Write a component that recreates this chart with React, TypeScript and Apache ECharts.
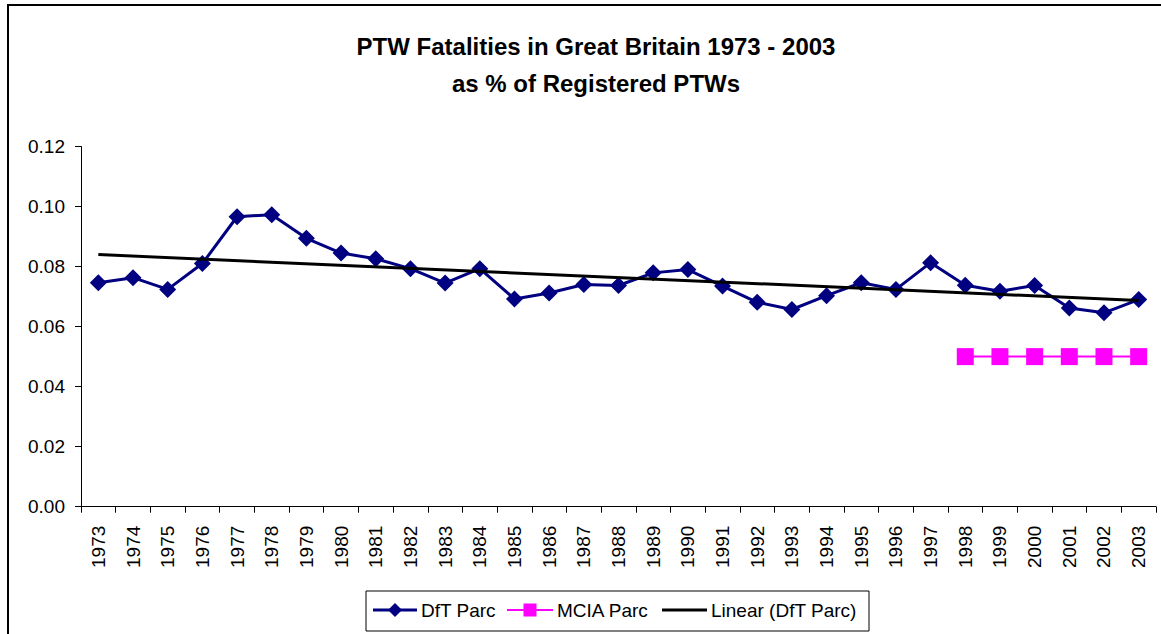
import React, { useEffect, useRef } from "react";
import * as echarts from "echarts";

const years = [
  "1973","1974","1975","1976","1977","1978","1979","1980","1981","1982",
  "1983","1984","1985","1986","1987","1988","1989","1990","1991","1992",
  "1993","1994","1995","1996","1997","1998","1999","2000","2001","2002","2003",
];
const dftParc = [
  0.0746, 0.0763, 0.0724, 0.0810, 0.0966, 0.0973, 0.0894, 0.0845, 0.0826, 0.0793,
  0.0745, 0.0793, 0.0692, 0.0712, 0.0740, 0.0737, 0.0779, 0.0790, 0.0735, 0.0681,
  0.0657, 0.0703, 0.0746, 0.0724, 0.0813, 0.0738, 0.0718, 0.0737, 0.0662, 0.0646, 0.0690,
];
const mciaParc: (number | null)[] = [
  null, null, null, null, null, null, null, null, null, null,
  null, null, null, null, null, null, null, null, null, null,
  null, null, null, null, null, 0.05, 0.05, 0.05, 0.05, 0.05, 0.05,
];
const trendStart = 0.0840;
const trendEnd = 0.0687;
const trend: (number | null)[] = years.map((_, i) =>
  i === 0 ? trendStart : i === years.length - 1 ? trendEnd : null
);
const legendNames = ["DfT Parc", "MCIA Parc", "Linear (DfT Parc)"];

const FONT = "'Liberation Sans', Arial, sans-serif";
const NAVY = "#000080";
const PINK = "#FF00FF";

export default function App() {
  const ref = useRef<HTMLDivElement>(null);
  useEffect(() => {
    if (!ref.current) return;
    const chart = echarts.init(ref.current, undefined, { renderer: "svg" });
    const ly = 610;
    chart.setOption({
      animation: false,
      backgroundColor: "transparent",
      textStyle: { fontFamily: FONT },
      title: {
        text: "PTW Fatalities in Great Britain 1973 - 2003\nas % of Registered PTWs",
        left: 591,
        top: 23,
        textAlign: "center",
        textStyle: {
          fontFamily: FONT,
          fontSize: 24,
          fontWeight: "bold",
          lineHeight: 37,
          color: "#000",
        },
      },
      grid: { left: 81, right: 5, top: 146.5, bottom: 127.3, containLabel: false },
      xAxis: {
        type: "category",
        data: years,
        boundaryGap: true,
        axisLine: { lineStyle: { color: "#000", width: 1 } },
        axisTick: { show: true, length: 6, interval: 0, lineStyle: { color: "#000" } },
        axisLabel: {
          rotate: 90,
          interval: 0,
          fontSize: 19,
          color: "#000",
          fontFamily: FONT,
          margin: 19,
        },
      },
      yAxis: {
        type: "value",
        min: 0,
        max: 0.12,
        interval: 0.02,
        splitLine: { show: false },
        axisLine: { show: true, lineStyle: { color: "#000", width: 1 } },
        axisTick: { show: true, length: 6, lineStyle: { color: "#000" } },
        axisLabel: {
          fontSize: 19,
          color: "#000",
          fontFamily: FONT,
          margin: 16,
          formatter: (v: number) => v.toFixed(2),
        },
      },
      graphic: [
        {
          type: "rect",
          shape: { x: 366, y: 591, width: 503, height: 40 },
          style: { fill: "#fff", stroke: "#000", lineWidth: 1 },
          z: 10,
        },
        {
          type: "line",
          shape: { x1: 373, y1: ly, x2: 417, y2: ly },
          style: { stroke: NAVY, lineWidth: 3 },
          z: 11,
        },
        {
          type: "polygon",
          shape: { points: [[395, ly - 7], [402, ly], [395, ly + 7], [388, ly]] },
          style: { fill: NAVY },
          z: 12,
        },
        {
          type: "text",
          x: 421,
          y: ly,
          style: { text: legendNames[0], font: `19px ${FONT}`, fill: "#000", verticalAlign: "middle" },
          z: 12,
        },
        {
          type: "line",
          shape: { x1: 507, y1: ly, x2: 553, y2: ly },
          style: { stroke: PINK, lineWidth: 2 },
          z: 11,
        },
        {
          type: "rect",
          shape: { x: 523.5, y: ly - 6.5, width: 13, height: 13 },
          style: { fill: PINK },
          z: 12,
        },
        {
          type: "text",
          x: 557,
          y: ly,
          style: { text: legendNames[1], font: `19px ${FONT}`, fill: "#000", verticalAlign: "middle" },
          z: 12,
        },
        {
          type: "line",
          shape: { x1: 662, y1: ly, x2: 707, y2: ly },
          style: { stroke: "#000", lineWidth: 3 },
          z: 11,
        },
        {
          type: "text",
          x: 711,
          y: ly,
          style: { text: legendNames[2], font: `19px ${FONT}`, fill: "#000", verticalAlign: "middle" },
          z: 12,
        },
      ],
      series: [
        {
          name: legendNames[0],
          type: "line",
          data: dftParc,
          symbol: "diamond",
          symbolSize: 17,
          lineStyle: { color: NAVY, width: 3 },
          itemStyle: { color: NAVY },
          z: 3,
        },
        {
          name: legendNames[1],
          type: "line",
          data: mciaParc,
          symbol: "rect",
          symbolSize: 17,
          lineStyle: { color: PINK, width: 2 },
          itemStyle: { color: PINK },
          z: 3,
        },
        {
          name: legendNames[2],
          type: "line",
          data: trend,
          connectNulls: true,
          symbol: "none",
          lineStyle: { color: "#000", width: 3 },
          itemStyle: { color: "#000" },
          z: 4,
        },
      ],
    });
    return () => chart.dispose();
  }, []);
  return (
    <div
      style={{
        position: "fixed",
        left: 0,
        top: 0,
        width: 1161,
        height: 634,
        background: "#fff",
        overflow: "hidden",
      }}
    >
      <div
        style={{
          position: "absolute",
          left: 7,
          top: 4,
          width: 1170,
          height: 650,
          borderLeft: "2px solid #000",
          borderTop: "2px solid #000",
        }}
      />
      <div ref={ref} style={{ position: "absolute", left: 0, top: 0, width: 1161, height: 634 }} />
    </div>
  );
}
